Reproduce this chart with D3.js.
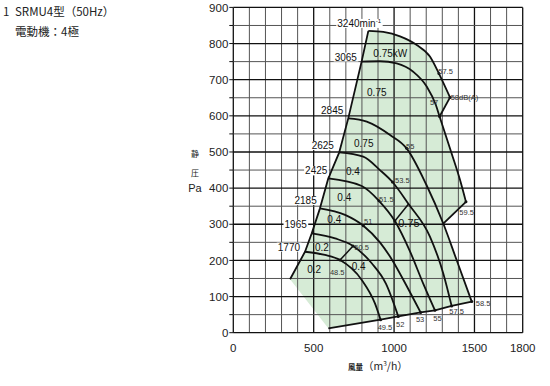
<!DOCTYPE html>
<html><head><meta charset="utf-8">
<script src="https://cdn.jsdelivr.net/npm/d3@7"></script>
<style>body{margin:0;background:#fff}svg{display:block}</style>
</head><body><svg id="c" width="550" height="386"></svg>
<script>
// ---------- data ----------
const titleNo = "1";
const titleMain = "SRMU4型（50Hz）";
const titleSub = "電動機：4極";
const xTicks = [0, 500, 1000, 1500, 1800];
const yTicks = [0, 100, 200, 300, 400, 500, 600, 700, 800, 900];
const xTitleA = "風量", xTitleB = "（m", xTitleSup = "3", xTitleC = "/h）";
const yTitle = ["静", "圧", "Pa"];

// fan curves [airflow m3/h, static pressure Pa]
const c3240 = [[840,835],[933,832],[1037,820],[1141,796],[1223,764],[1279,717],[1348,651]];
const c3065 = [[798,750],[912,751],[1016,745],[1119,722],[1203,681],[1260,630],[1283,598],[1358,496],[1410,423],[1447,362]];
const c2845 = [[715,593],[830,584],[975,547],[1078,510],[1200,410],[1306,302],[1389,201],[1483,86]];
const c2625 = [[659,499],[808,487],[912,450],[990,417],[1090,356],[1223,266],[1306,164],[1358,74]];
const c2425 = [[591,427],[799,406],[906,365],[1005,309],[1099,225],[1182,135],[1254,62]];
const c2185 = [[539,344],[695,326],[809,296],[912,250],[990,200],[1075,132],[1165,56]];
const c1965 = [[488,275],[633,261],[745,240],[861,192],[950,135],[1026,45]];
const c1770 = [[446,224],[570,215],[664,201],[799,146],[881,81],[916,36]];
const surgeLine = [[840,835],[798,750],[715,593],[659,499],[591,427],[539,344],[488,275],[446,224],[353,148]];
const bottomLine = [[591,12],[916,36],[1026,45],[1165,56],[1254,62],[1358,74],[1483,86]];
const edge1 = [[1348,651],[1283,598]];
const edge2 = [[1447,362],[1306,302]];
const powerSeg1 = [[1090,356],[1005,309]];
const powerSeg2 = [[745,240],[664,201]];
const dots = [[1279,717],[1348,651],[1283,598],[1078,510],[990,417],[906,365],[809,296],[745,240],[664,201],
              [1447,362],[1483,86],[1358,74],[1254,62],[1165,56],[1026,45],[916,36],[1005,309]];

// labels [airflow, pressure, text]
const rpmLabels = [[769,753,"3065"],[684,605,"2845"],[626,508,"2625"],[585,438,"2425"],[519,356,"2185"],[457,290,"1965"],[415,227,"1770"]];
const topRpm = [647,846,"3240min","-1"];
const powerLabels = [[871,763,"0.75kW"],[832,656,"0.75"],[751,514,"0.75"],[701,435,"0.4"],[647,364,"0.4"],[585,303,"0.4"],[508,226,"0.2"],[460,165,"0.2"],[736,173,"0.4"]];
const powerLabelBig = [1026,292,"0.75"];
const dbLabels = [[1275,716,"57.5"],[1352,644,"58dB(A)"],[1223,631,"57"],[1074,508,"55"],[1006,414,"53.5"],[906,361,"51.5"],[813,302,"51"],[753,230,"50.5"],[601,160,"48.5"],[1406,326,"59.5"],[1508,75,"58.5"],[1343,52,"57.5"],[1244,32,"55"],[1136,30,"53"],[1012,16,"52"],[898,7,"49.5"]];

// ---------- drawing ----------
const svg = d3.select("#c");
const x = d3.scaleLinear().domain([0,1800]).range([233.3,522.7]);
const y = d3.scaleLinear().domain([0,900]).range([332.7,7.4]);
const numFont = "'Liberation Sans', Arial, sans-serif";
const cjkFont = "'Noto Sans CJK JP', sans-serif";

const lin = d3.line().x(d=>x(d[0])).y(d=>y(d[1]));
const mono = d3.line().x(d=>x(d[0])).y(d=>y(d[1])).curve(d3.curveMonotoneX);

// green operating region
function cont(p){ return p.replace(/^M/, "L"); }
const j3065 = c3065.findIndex(d=>d[0]===edge1[1][0] && d[1]===edge1[1][1]);
const j2845 = c2845.findIndex(d=>d[0]===edge2[1][0] && d[1]===edge2[1][1]);
const fillPath = lin(surgeLine.slice().reverse())
  + cont(mono(c3240))
  + cont(lin(edge1))
  + cont(mono(c3065.slice(j3065)))
  + cont(lin(edge2))
  + cont(mono(c2845.slice(j2845)))
  + cont(lin(bottomLine.slice().reverse())) + "Z";
svg.append("path").attr("d", fillPath).attr("fill", "#d6ebd6").attr("stroke","none");

// grid
const g = svg.append("g");
d3.range(0,1801,100).forEach(v=>{
  const major = v%500===0 || v===1800;
  g.append("line").attr("x1",x(v)).attr("x2",x(v)).attr("y1",y(0)).attr("y2",y(900))
   .attr("stroke", major?"#111":"#555").attr("stroke-width", major?1.3:1);
});
d3.range(0,901,50).forEach(v=>{
  const major = v%100===0;
  g.append("line").attr("x1",x(0)).attr("x2",x(1800)).attr("y1",y(v)).attr("y2",y(v))
   .attr("stroke", major?"#111":"#555").attr("stroke-width", major?1.3:1);
  g.append("line").attr("x1",x(0)-4).attr("x2",x(0)).attr("y1",y(v)).attr("y2",y(v))
   .attr("stroke","#111").attr("stroke-width",1);
});

// axis labels
svg.append("g").selectAll("text").data(yTicks).join("text")
  .attr("x", x(0)-5).attr("y", d=>y(d)).attr("dy","0.36em").attr("text-anchor","end")
  .attr("font-family", numFont).attr("font-size", 11.5).attr("fill","#222").text(d=>d);
svg.append("g").selectAll("text").data(xTicks).join("text")
  .attr("x", d=>x(d)).attr("y", 351.5).attr("text-anchor","middle")
  .attr("font-family", numFont).attr("font-size", 11.5).attr("fill","#222").text(d=>d);

const xt = svg.append("text").attr("x",348).attr("y",370).attr("font-family",cjkFont).attr("fill","#222");
xt.append("tspan").attr("font-size",7.5).attr("font-weight","bold").text(xTitleA);
xt.append("tspan").attr("font-size",10.5).text(xTitleB);
xt.append("tspan").attr("font-size",6.5).attr("dy",-4).text(xTitleSup);
xt.append("tspan").attr("font-size",10.5).attr("dy",4).text(xTitleC);

svg.append("text").attr("x",195).attr("y",157).attr("text-anchor","middle").attr("font-family",cjkFont).attr("font-size",8).attr("fill","#222").text(yTitle[0]);
svg.append("text").attr("x",195).attr("y",176).attr("text-anchor","middle").attr("font-family",cjkFont).attr("font-size",8).attr("fill","#222").text(yTitle[1]);
svg.append("text").attr("x",195).attr("y",192).attr("text-anchor","middle").attr("font-family",numFont).attr("font-size",11).attr("fill","#222").text(yTitle[2]);

// title
svg.append("text").attr("x",3).attr("y",16).attr("font-family",cjkFont).attr("font-size",11.5).attr("fill","#222").text(titleNo);
svg.append("text").attr("x",15).attr("y",16).attr("font-family",cjkFont).attr("font-size",11.5).attr("fill","#222").text(titleMain);
svg.append("text").attr("x",15).attr("y",36).attr("font-family",cjkFont).attr("font-size",11.5).attr("fill","#222").text(titleSub);

// curves
const lines = svg.append("g").attr("fill","none").attr("stroke","#111").attr("stroke-width",1.8).attr("stroke-linejoin","round");
[c3240,c3065,c2845,c2625,c2425,c2185,c1965,c1770].forEach(c=>lines.append("path").attr("d", mono(c)));
[surgeLine,bottomLine,edge1,edge2].forEach(c=>lines.append("path").attr("d", lin(c)));
[powerSeg1,powerSeg2].forEach(c=>lines.append("path").attr("d", lin(c)).attr("stroke-width",1.5));
svg.append("g").selectAll("circle").data(dots).join("circle")
  .attr("cx",d=>x(d[0])).attr("cy",d=>y(d[1])).attr("r",1.5).attr("fill","#111");

// rpm labels with white background
function bgText(parent, t, fill){
  const b = t.node().getBBox();
  parent.insert("rect", () => t.node()).attr("x",b.x-1).attr("y",b.y+1).attr("width",b.width+2).attr("height",b.height-2).attr("fill",fill);
}
const lg = svg.append("g");
rpmLabels.forEach(d=>{
  const t = lg.append("text").attr("x",x(d[0])).attr("y",y(d[1])).attr("text-anchor","end")
    .attr("font-family",numFont).attr("font-size",10).attr("fill","#111").text(d[2]);
  bgText(lg, t, "#fff");
});
{
  const t = lg.append("text").attr("x",x(topRpm[0])).attr("y",y(topRpm[1]))
    .attr("font-family",numFont).attr("font-size",10).attr("fill","#111");
  t.append("tspan").text(topRpm[2]);
  t.append("tspan").attr("font-size",6).attr("dy",-4).text(topRpm[3]);
  bgText(lg, t, "#fff");
}
powerLabels.forEach(d=>{
  lg.append("text").attr("x",x(d[0])).attr("y",y(d[1]))
    .attr("font-family",numFont).attr("font-size",10).attr("fill","#111").text(d[2]);
});
lg.append("text").attr("x",x(powerLabelBig[0])).attr("y",y(powerLabelBig[1]))
  .attr("font-family",numFont).attr("font-size",11).attr("fill","#111").text(powerLabelBig[2]);
dbLabels.forEach(d=>{
  lg.append("text").attr("x",x(d[0])).attr("y",y(d[1]))
    .attr("font-family",numFont).attr("font-size",7.5).attr("fill","#333").text(d[2]);
});
</script></body></html>
